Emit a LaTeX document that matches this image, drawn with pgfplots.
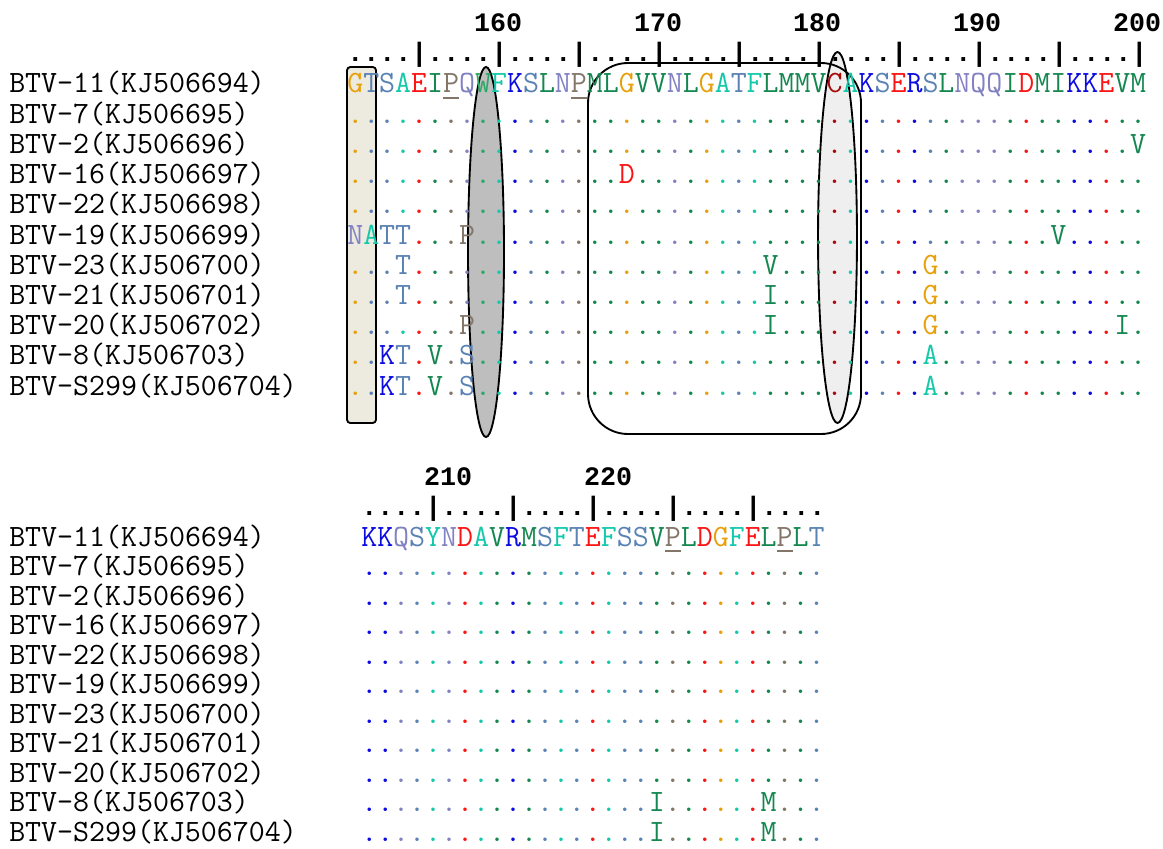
\documentclass[border=0pt]{standalone}
\usepackage{pgfplots}
\pgfplotsset{compat=1.18}
\usepackage{pgfplotstable}
\usepackage{fontspec}
\newfontfamily\rulerfont{Liberation Mono}
\newcommand\seqfont{\ttfamily\fontsize{23.27}{26}\selectfont}
\newcommand\rulfont{\rulerfont\bfseries\fontsize{20}{24}\selectfont}
\definecolor{cG}{RGB}{232,160,10}
\definecolor{cST}{RGB}{90,130,180}
\definecolor{cAF}{RGB}{20,200,170}
\definecolor{cED}{RGB}{250,20,20}
\definecolor{cHy}{RGB}{20,135,80}
\definecolor{cW}{RGB}{40,170,100}
\definecolor{cP}{RGB}{130,118,105}
\definecolor{cNQ}{RGB}{130,130,195}
\definecolor{cKR}{RGB}{10,10,225}
\definecolor{cC}{RGB}{170,10,10}
\definecolor{beige}{RGB}{237,235,224}
\definecolor{midgray}{RGB}{190,190,190}
\definecolor{lightg}{RGB}{239,239,239}
\makeatletter
\newcommand\defres[3]{%
  \expandafter\def\csname res@#1\endcsname{\textcolor{#3}{#1}}%
  \expandafter\def\csname res@#2\endcsname{\textcolor{#3}{.}}}
\defres{G}{g}{cG}
\defres{S}{s}{cST}
\defres{T}{t}{cST}
\defres{A}{a}{cAF}
\defres{F}{f}{cAF}
\defres{Y}{y}{cAF}
\defres{E}{e}{cED}
\defres{D}{d}{cED}
\defres{I}{i}{cHy}
\defres{L}{l}{cHy}
\defres{M}{m}{cHy}
\defres{V}{v}{cHy}
\defres{W}{w}{cW}
\defres{P}{p}{cP}
\defres{N}{n}{cNQ}
\defres{Q}{q}{cNQ}
\defres{K}{k}{cKR}
\defres{R}{r}{cKR}
\defres{C}{c}{cC}
\expandafter\def\csname res@U\endcsname{\textcolor{cP}{\rlap{\rule[-4.3pt]{12pt}{1.1pt}}P}}
\def\seq#1{\seq@#1\@nil}
\def\seq@#1{\ifx\@nil#1\else\csname res@#1\endcsname\expandafter\seq@\fi}
\makeatother
\pgfplotsset{
  seqrow/.style={draw=none, mark=none, point meta=explicit symbolic,
    nodes near coords={\edef\tmpseq{\pgfplotspointmeta}\expandafter\seq\expandafter{\tmpseq}},
    every node near coord/.style={anchor=base west, inner sep=0pt, font=\seqfont}},
  namerow/.style={draw=none, mark=none, point meta=explicit symbolic,
    nodes near coords={\pgfplotspointmeta},
    every node near coord/.style={anchor=base west, inner sep=0pt, text=black, font=\seqfont}},
  rulerrow/.style={draw=none, mark=none, point meta=explicit symbolic,
    nodes near coords={\pgfplotspointmeta},
    every node near coord/.style={anchor=base west, inner sep=0pt, text=black, font=\rulfont}},
  numrow/.style={draw=none, mark=none, point meta=explicit symbolic,
    nodes near coords={\pgfplotspointmeta},
    every node near coord/.style={anchor=base, inner sep=0pt, text=black, font=\rulfont}},
}
% residues 151-200 (upper case = residue, lower case = identical residue shown as a dot, U = underlined P)
\pgfplotstableread{
x y s
347 93.0 GTSAEIUQWFKSLNUMLGVVNLGATFLMMVCAKSERSLNQQIDMIKKEVM
347 123.2 gtsaeipqwfkslnpmlgvvnlgatflmmvcakserslnqqidmikkevm
347 153.4 gtsaeipqwfkslnpmlgvvnlgatflmmvcakserslnqqidmikkevV
347 183.6 gtsaeipqwfkslnpmlDvvnlgatflmmvcakserslnqqidmikkevm
347 213.8 gtsaeipqwfkslnpmlgvvnlgatflmmvcakserslnqqidmikkevm
347 244.0 NATTeipPwfkslnpmlgvvnlgatflmmvcakserslnqqidmVkkevm
347 274.2 gtsTeipqwfkslnpmlgvvnlgatfVmmvcakserGlnqqidmikkevm
347 304.4 gtsTeipqwfkslnpmlgvvnlgatfImmvcakserGlnqqidmikkevm
347 334.6 gtsaeipPwfkslnpmlgvvnlgatfImmvcakserGlnqqidmikkeIm
347 364.8 gtKTeVpSwfkslnpmlgvvnlgatflmmvcakserAlnqqidmikkevm
347 395.0 gtKTeVpSwfkslnpmlgvvnlgatflmmvcakserAlnqqidmikkevm
}\topseq
% residues 201-229
\pgfplotstableread{
x y s
361 546.0 KKQSYNDAVRMSFTEFSSVULDGFELULT
361 575.5 kkqsyndavrmsftefssvpldgfelplt
361 605.0 kkqsyndavrmsftefssvpldgfelplt
361 634.5 kkqsyndavrmsftefssvpldgfelplt
361 664.0 kkqsyndavrmsftefssvpldgfelplt
361 693.5 kkqsyndavrmsftefssvpldgfelplt
361 723.0 kkqsyndavrmsftefssvpldgfelplt
361 752.5 kkqsyndavrmsftefssvpldgfelplt
361 782.0 kkqsyndavrmsftefssvpldgfelplt
361 811.5 kkqsyndavrmsftefssIpldgfeMplt
361 841.0 kkqsyndavrmsftefssIpldgfeMplt
}\botseq
\pgfplotstableread{
x y s
9 93.0 BTV-11(KJ506694)
9 123.2 BTV-7(KJ506695)
9 153.4 BTV-2(KJ506696)
9 183.6 BTV-16(KJ506697)
9 213.8 BTV-22(KJ506698)
9 244.0 BTV-19(KJ506699)
9 274.2 BTV-23(KJ506700)
9 304.4 BTV-21(KJ506701)
9 334.6 BTV-20(KJ506702)
9 364.8 BTV-8(KJ506703)
9 395.0 BTV-S299(KJ506704)
9 546.0 BTV-11(KJ506694)
9 575.5 BTV-7(KJ506695)
9 605.0 BTV-2(KJ506696)
9 634.5 BTV-16(KJ506697)
9 664.0 BTV-22(KJ506698)
9 693.5 BTV-19(KJ506699)
9 723.0 BTV-23(KJ506700)
9 752.5 BTV-21(KJ506701)
9 782.0 BTV-20(KJ506702)
9 811.5 BTV-8(KJ506703)
9 841.0 BTV-S299(KJ506704)
}\names
\pgfplotstableread{
x y s
498 32 160
658 32 170
817 32 180
977 32 190
1137 32 200
448 485 210
608 485 220
}\numbers
\begin{document}
\begin{tikzpicture}
\useasboundingbox (0,0) rectangle (872.25pt,636.75pt);
\begin{axis}[at={(0,0)}, anchor=south west,
  x=0.75pt, y=0.75pt, y dir=reverse,
  xmin=0, xmax=1163, ymin=0, ymax=849,
  enlargelimits=false, hide axis, clip=false]
% highlight shapes
\draw[line width=1.4pt, fill=beige, rounded corners=2.5pt] (axis cs:347,67) rectangle (axis cs:376,423);
\draw[line width=1.4pt, fill=midgray] (axis cs:486,252) ellipse [x radius=13.5pt, y radius=138.75pt];
\draw[line width=1.4pt, fill=lightg] (axis cs:837.5,237.5) ellipse [x radius=14.6pt, y radius=139.1pt];
\draw[line width=1.4pt, rounded corners=30pt] (axis cs:588,63) rectangle (axis cs:861,434);
% rulers
\addplot[rulerrow] coordinates {(347,61.5) [....|....|....|....|....|....|....|....|....|....|]};
\addplot[rulerrow] coordinates {(361,515) [....|....|....|....|....|....]};
\addplot[numrow] table[x=x, y=y, meta=s] {\numbers};
% names and sequences
\addplot[namerow] table[x=x, y=y, meta=s] {\names};
\addplot[seqrow] table[x=x, y=y, meta=s] {\topseq};
\addplot[seqrow] table[x=x, y=y, meta=s] {\botseq};
\end{axis}
\end{tikzpicture}
\end{document}
